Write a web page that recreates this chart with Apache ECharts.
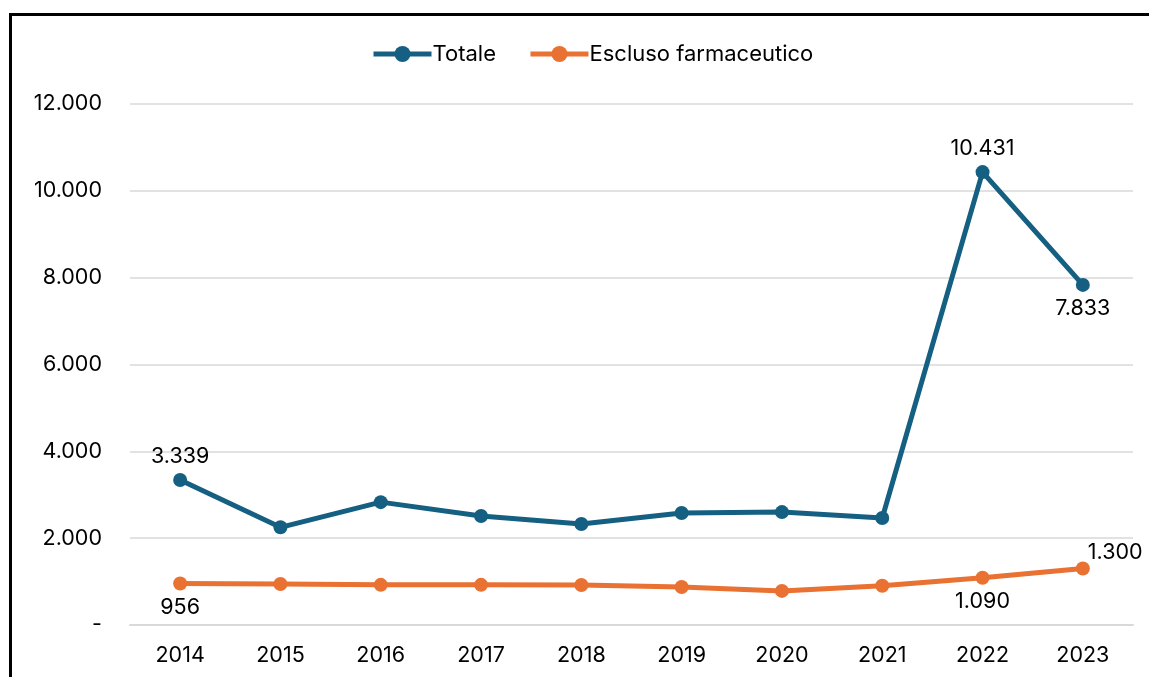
<!DOCTYPE html>
<html>
<head>
<meta charset="utf-8">
<script src="https://cdn.jsdelivr.net/npm/echarts@6/dist/echarts.min.js"></script>
<style>
  html, body { margin: 0; padding: 0; background: #fff; }
  #frame {
    position: absolute; left: 9px; top: 13px; width: 1150px; height: 680px;
    border: 3px solid #000; box-sizing: border-box;
  }
  #chart { position: absolute; left: 0; top: 0; width: 1149px; height: 677px; }
</style>
</head>
<body>
<div id="frame"></div>
<div id="chart"></div>
<script>
// dati
const years = ['2014', '2015', '2016', '2017', '2018', '2019', '2020', '2021', '2022', '2023']
const totale = [3339, 2250, 2830, 2510, 2325, 2580, 2600, 2465, 10431, 7833]
const esclusoFarmaceutico = [956, 945, 925, 925, 920, 875, 785, 905, 1090, 1300]
const yTicks = [0, 2000, 4000, 6000, 8000, 10000, 12000]

// punti con etichetta: indice -> posizione
const totaleLabels = { 0: 'top', 8: 'top', 9: 'bottom' }
const esclusoLabels = { 0: 'bottom', 8: 'bottom', 9: 'topRight' }

const fmt = v => v === 0 ? '-' : v.toLocaleString('it-IT')
const fontFamily = 'Inter, "Noto Sans", sans-serif'
const fontSize = 21.5

function withLabels(values, labels) {
  return values.map((v, i) => {
    const pos = labels[i]
    if (!pos) return v
    const label = { show: true, position: pos === 'topRight' ? 'right' : pos, distance: 6 }
    if (pos === 'topRight') label.offset = [-8, -16]
    return { value: v, label }
  })
}

const chart = echarts.init(document.getElementById('chart'))
chart.setOption({
  animation: false,
  textStyle: { fontFamily },
  legend: {
    top: 38,
    left: 366,
    itemWidth: 58,
    itemHeight: 20,
    itemGap: 32,
    lineStyle: { width: 5 },
    textStyle: { fontSize: 22, color: '#000', fontFamily, padding: [0, 0, 0, -4] },
    data: ['Totale', 'Escluso farmaceutico']
  },
  grid: { left: 130, right: 16, top: 104, bottom: 52, containLabel: false },
  xAxis: {
    type: 'category',
    data: years,
    axisLine: { lineStyle: { color: '#d9d9d9', width: 2 } },
    axisTick: { show: false },
    axisLabel: { fontSize, color: '#000', margin: 20, fontFamily }
  },
  yAxis: {
    type: 'value',
    min: yTicks[0],
    max: yTicks[yTicks.length - 1],
    interval: 2000,
    axisLine: { show: false },
    axisTick: { show: false },
    splitLine: { lineStyle: { color: '#d9d9d9', width: 1.5 } },
    axisLabel: { fontSize, color: '#000', margin: 28, fontFamily, formatter: fmt }
  },
  series: [
    {
      name: 'Totale',
      type: 'line',
      data: withLabels(totale, totaleLabels),
      symbol: 'circle',
      symbolSize: 14,
      color: '#156082',
      lineStyle: { width: 5, color: '#156082' },
      itemStyle: { color: '#156082' },
      label: { fontSize, color: '#000', fontFamily, formatter: p => fmt(p.value) }
    },
    {
      name: 'Escluso farmaceutico',
      type: 'line',
      data: withLabels(esclusoFarmaceutico, esclusoLabels),
      symbol: 'circle',
      symbolSize: 14,
      color: '#E97132',
      lineStyle: { width: 5, color: '#E97132' },
      itemStyle: { color: '#E97132' },
      label: { fontSize, color: '#000', fontFamily, formatter: p => fmt(p.value) }
    }
  ]
})
</script>
</body>
</html>
